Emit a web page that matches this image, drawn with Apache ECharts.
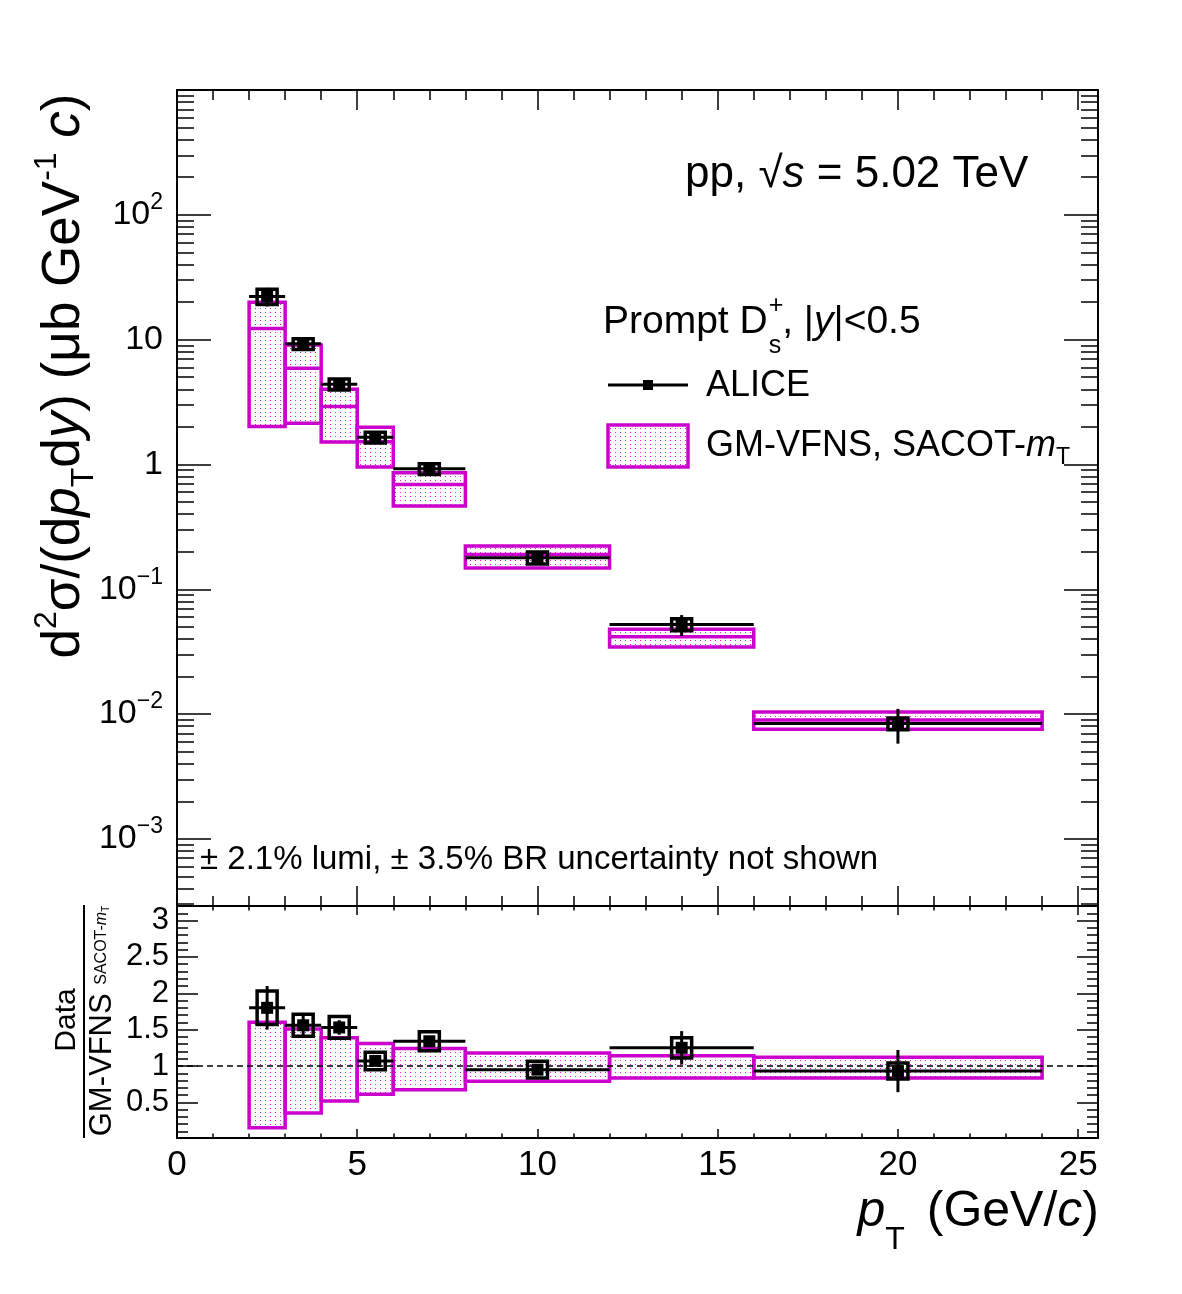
<!DOCTYPE html>
<html><head><meta charset="utf-8">
<script src="https://cdn.jsdelivr.net/npm/echarts@6/dist/echarts.min.js"></script>
<style>html,body{margin:0;padding:0;background:#fff}#c{width:1182px;height:1294px}</style>
</head><body><div id="c"></div>
<script>
// ---------------- data ----------------
const binLo = [2, 3, 4, 5, 6, 8, 12, 16];
const binHi = [3, 4, 5, 6, 8, 12, 16, 24];
const ptCenter = [2.5, 3.5, 4.5, 5.5, 7, 10, 14, 20];

// ALICE prompt Ds+ cross section (ub GeV^-1 c)
const aliceVal = [22.2, 9.25, 4.39, 1.65, 0.923, 0.179, 0.0522, 0.0084];
const aliceStatRel = [0.17, 0.11, 0.07, 0.06, 0.05, 0.06, 0.19, 0.31];
const aliceSystRel = [0.14, 0.10, 0.10, 0.10, 0.10, 0.11, 0.11, 0.11];

// GM-VFNS SACOT-mT prediction
const theoryUp  = [19.9, 9.07, 4.0, 1.99, 0.857, 0.222, 0.0479, 0.0104];
const theoryCen = [12.3, 5.9, 2.91, 1.52, 0.69, 0.19, 0.0416, 0.00895];
const theoryLo  = [2.01, 2.14, 1.51, 0.953, 0.464, 0.148, 0.0345, 0.00755];

// Ratio panel Data / GM-VFNS
const ratioVal  = [1.80, 1.56, 1.53, 1.07, 1.34, 0.95, 1.25, 0.93];
const ratioStat = [0.30, 0.17, 0.10, 0.06, 0.07, 0.06, 0.23, 0.29];
const ratioSyst = [0.23, 0.15, 0.15, 0.12, 0.13, 0.115, 0.14, 0.11];
const ratioTheoUp = [1.60, 1.51, 1.39, 1.31, 1.24, 1.18, 1.14, 1.12];
const ratioTheoLo = [0.15, 0.355, 0.52, 0.61, 0.675, 0.79, 0.835, 0.835];

// axis ticks
const topMajorTicks = [1e-3, 1e-2, 0.1, 1, 10, 100, 1000];
const topLabelTicks = [1e-3, 1e-2, 0.1, 1, 10, 100];
const ratioLabelTicks = [0.5, 1, 1.5, 2, 2.5, 3];
const xLabelTicks = [0, 5, 10, 15, 20, 25];

// ---------------- helpers ----------------
const FONT = '"Liberation Sans", Arial, Helvetica, sans-serif';
const MAG = '#cc00cc';
const xMin = 0, xMax = 25.55;
const yTopMin = 2.9e-4, yTopMax = 1000;
const yRatMin = 0.01, yRatMax = 3.2;

const topMinorTicks = [];
for (let k = -4; k <= 2; k++) {
  for (let m = 2; m <= 9; m++) {
    const v = Number((m * Math.pow(10, k)).toPrecision(3));
    if (v >= yTopMin && v <= yTopMax) topMinorTicks.push(v);
  }
}
const ratioMinorTicks = [];
for (let k = 1; k <= 32; k++) {
  if (k % 5 !== 0) ratioMinorTicks.push(Number((k * 0.1).toFixed(1)));
}

const aliceStatLo = aliceVal.map((v, i) => v * (1 - aliceStatRel[i]));
const aliceStatHi = aliceVal.map((v, i) => v * (1 + aliceStatRel[i]));
const aliceSystLo = aliceVal.map((v, i) => v * (1 - aliceSystRel[i]));
const aliceSystHi = aliceVal.map((v, i) => v * (1 + aliceSystRel[i]));
const ratioStatLo = ratioVal.map((v, i) => v - ratioStat[i]);
const ratioStatHi = ratioVal.map((v, i) => v + ratioStat[i]);
const ratioSystLo = ratioVal.map((v, i) => v - ratioSyst[i]);
const ratioSystHi = ratioVal.map((v, i) => v + ratioSyst[i]);

// dotted magenta fill pattern
const pc = document.createElement('canvas');
pc.width = 5; pc.height = 4;
const pctx = pc.getContext('2d');
pctx.fillStyle = 'rgba(225,0,225,0.9)';
pctx.fillRect(0, 0, 1, 1);
const pattern = { image: pc, repeat: 'repeat' };

// text measuring
const mctx = document.createElement('canvas').getContext('2d');
function textW(t, size, style) {
  mctx.font = (style || '') + ' ' + size + 'px "Liberation Sans"';
  return mctx.measureText(t).width;
}

function theoryRender(up, dn, cen, drawCen) {
  return function (params, api) {
    const i = params.dataIndex;
    const a = api.coord([binLo[i], up[i]]);
    const b = api.coord([binHi[i], dn[i]]);
    const ch = [{
      type: 'rect',
      shape: { x: a[0], y: a[1], width: b[0] - a[0], height: b[1] - a[1] },
      style: { fill: pattern, stroke: MAG, lineWidth: 3.5 }
    }];
    if (drawCen) {
      const c1 = api.coord([binLo[i], cen[i]]);
      const c2 = api.coord([binHi[i], cen[i]]);
      ch.push({ type: 'line', shape: { x1: c1[0], y1: c1[1], x2: c2[0], y2: c2[1] },
        style: { stroke: MAG, lineWidth: 3.5 } });
    }
    return { type: 'group', children: ch };
  };
}

function dataRender(vals, eLo, eHi, sLo, sHi) {
  return function (params, api) {
    const i = params.dataIndex;
    const c = api.coord([ptCenter[i], vals[i]]);
    const l = api.coord([binLo[i], vals[i]]);
    const r = api.coord([binHi[i], vals[i]]);
    const t = api.coord([ptCenter[i], eHi[i]]);
    const b = api.coord([ptCenter[i], eLo[i]]);
    const st = api.coord([ptCenter[i], sHi[i]]);
    const sb = api.coord([ptCenter[i], sLo[i]]);
    return { type: 'group', children: [
      { type: 'line', shape: { x1: l[0], y1: l[1], x2: r[0], y2: r[1] }, style: { stroke: '#000', lineWidth: 3 } },
      { type: 'line', shape: { x1: t[0], y1: t[1], x2: b[0], y2: b[1] }, style: { stroke: '#000', lineWidth: 3 } },
      { type: 'rect', shape: { x: c[0] - 10, y: st[1], width: 20, height: sb[1] - st[1] }, style: { fill: 'none', stroke: '#000', lineWidth: 3.5 } },
      { type: 'rect', shape: { x: c[0] - 6, y: c[1] - 6, width: 12, height: 12 }, style: { fill: '#000' } }
    ] };
  };
}

function dashRender(params, api) {
  const a = api.coord([xMin, 1]);
  const b = api.coord([xMax, 1]);
  return { type: 'line', shape: { x1: a[0], y1: a[1], x2: b[0], y2: b[1] },
    style: { stroke: '#000', lineWidth: 1.5, lineDash: [6, 4] } };
}

const axisLine = { show: true, lineStyle: { color: '#000', width: 2 } };
const noLabel = { show: false };

function xAxisDef(grid, pos, showLabel, majLen, minLen) {
  return {
    type: 'value', gridIndex: grid, position: pos, min: xMin, max: xMax, interval: 5,
    axisLine: axisLine, splitLine: { show: false },
    axisTick: { show: true, inside: true, length: majLen, customValues: xLabelTicks, lineStyle: { color: '#000', width: 1.5 } },
    minorTick: { show: true, splitNumber: 5, length: minLen, lineStyle: { color: '#000', width: 1.5 } },
    axisLabel: showLabel ? { show: true, margin: 10, color: '#000', fontSize: 35, fontFamily: FONT, customValues: xLabelTicks } : noLabel
  };
}

function yLogDef(pos, ticks, len, showLabel) {
  return {
    type: 'log', gridIndex: 0, position: pos, min: yTopMin, max: yTopMax, logBase: 10,
    axisLine: axisLine, splitLine: { show: false },
    axisTick: { show: true, inside: true, length: len, customValues: ticks, lineStyle: { color: '#000', width: 1.5 } },
    minorTick: { show: false },
    axisLabel: showLabel ? {
      show: true, margin: 14, color: '#000', fontFamily: FONT, fontSize: 33,
      customValues: topLabelTicks,
      formatter: function (v) {
        const e = Math.round(Math.log10(v));
        if (e === 0) return '{b|1}';
        if (e === 1) return '{b|10}';
        const s = e < 0 ? '\u2212' + (-e) : String(e);
        return '{b|10}{s|' + s + '}';
      },
      rich: {
        b: { fontSize: 34, fontFamily: FONT, color: '#000', lineHeight: 36 },
        s: { fontSize: 23, fontFamily: FONT, color: '#000', lineHeight: 23, padding: [0, 0, 24, 0] }
      }
    } : noLabel
  };
}

function yRatDef(pos, ticks, len, showLabel) {
  return {
    type: 'value', gridIndex: 1, position: pos, min: yRatMin, max: yRatMax,
    axisLine: axisLine, splitLine: { show: false },
    axisTick: { show: true, inside: true, length: len, customValues: ticks, lineStyle: { color: '#000', width: 1.5 } },
    minorTick: { show: false },
    axisLabel: showLabel ? { show: true, margin: 8, color: '#000', fontFamily: FONT, fontSize: 31, customValues: ratioLabelTicks } : noLabel
  };
}

const chart = echarts.init(document.getElementById('c'), null, { renderer: 'canvas' });

const tRich = {
  n: { fontSize: 44, fontFamily: FONT, color: '#000' },
  i: { fontSize: 44, fontFamily: FONT, fontStyle: 'italic', color: '#000' }
};

// legend header layout
const hdrSize = 39;
const hdrX = 603;
const wPromptD = textW('Prompt D', hdrSize);
const xSupSub = hdrX + wPromptD + 1;
const xAfter = xSupSub + textW('s', 25) + 1;

const option = {
  animation: false,
  backgroundColor: '#fff',
  grid: [
    { left: 177, top: 90, width: 921, height: 816, outerBoundsMode: 'none', containLabel: false },
    { left: 177, top: 906, width: 921, height: 232, outerBoundsMode: 'none', containLabel: false }
  ],
  xAxis: [
    xAxisDef(0, 'bottom', false, 20, 10),
    xAxisDef(0, 'top', false, 20, 10),
    xAxisDef(1, 'bottom', true, 9, 4.5),
    xAxisDef(1, 'top', false, 9, 4.5)
  ],
  yAxis: [
    yLogDef('left', topMajorTicks, 34, true),
    yLogDef('left', topMinorTicks, 17, false),
    yLogDef('right', topMajorTicks, 34, false),
    yLogDef('right', topMinorTicks, 17, false),
    yRatDef('left', ratioLabelTicks, 21, true),
    yRatDef('left', ratioMinorTicks, 11, false),
    yRatDef('right', ratioLabelTicks, 21, false),
    yRatDef('right', ratioMinorTicks, 11, false)
  ],
  series: [
    { type: 'custom', name: 'GM-VFNS', xAxisIndex: 0, yAxisIndex: 0, clip: true,
      renderItem: theoryRender(theoryUp, theoryLo, theoryCen, true),
      data: ptCenter.map((x, i) => [x, theoryCen[i]]) },
    { type: 'custom', name: 'ALICE', xAxisIndex: 0, yAxisIndex: 0, clip: true,
      renderItem: dataRender(aliceVal, aliceStatLo, aliceStatHi, aliceSystLo, aliceSystHi),
      data: ptCenter.map((x, i) => [x, aliceVal[i]]) },
    { type: 'custom', name: 'GM-VFNS ratio', xAxisIndex: 2, yAxisIndex: 4, clip: true,
      renderItem: theoryRender(ratioTheoUp, ratioTheoLo, null, false),
      data: ptCenter.map((x, i) => [x, 1]), z: 2 },
    { type: 'custom', name: 'unity', xAxisIndex: 2, yAxisIndex: 4, clip: true,
      renderItem: dashRender, data: [[0, 1]], z: 3 },
    { type: 'custom', name: 'ALICE ratio', xAxisIndex: 2, yAxisIndex: 4, clip: true,
      renderItem: dataRender(ratioVal, ratioStatLo, ratioStatHi, ratioSystLo, ratioSystHi),
      data: ptCenter.map((x, i) => [x, ratioVal[i]]), z: 4 }
  ],
  graphic: [
    // energy label
    { type: 'text', x: 685, y: 175, style: { text: '{n|pp, }{n|\u221A}{i|s}{n| = 5.02 TeV}', rich: tRich,
      verticalAlign: 'middle', align: 'left' } },
    // legend header
    { type: 'text', x: hdrX, y: 322, style: { text: 'Prompt D', fontSize: hdrSize, fontFamily: FONT, fill: '#000', verticalAlign: 'middle' } },
    { type: 'text', x: xSupSub, y: 306, style: { text: '+', fontSize: 25, fontFamily: FONT, fill: '#000', verticalAlign: 'middle' } },
    { type: 'text', x: xSupSub, y: 346, style: { text: 's', fontSize: 25, fontFamily: FONT, fill: '#000', verticalAlign: 'middle' } },
    { type: 'text', x: xAfter, y: 322, style: { text: '{n|, |}{i|y}{n||<0.5}', verticalAlign: 'middle',
      rich: { n: { fontSize: hdrSize, fontFamily: FONT, color: '#000' }, i: { fontSize: hdrSize, fontFamily: FONT, fontStyle: 'italic', color: '#000' } } } },
    // legend ALICE
    { type: 'line', shape: { x1: 608, y1: 385, x2: 688, y2: 385 }, style: { stroke: '#000', lineWidth: 3 } },
    { type: 'rect', shape: { x: 643, y: 380, width: 10, height: 10 }, style: { fill: '#000' } },
    { type: 'text', x: 706, y: 386, style: { text: 'ALICE', fontSize: 36, fontFamily: FONT, fill: '#000', verticalAlign: 'middle' } },
    // legend GM-VFNS
    { type: 'rect', shape: { x: 608, y: 425, width: 80, height: 42 }, style: { fill: pattern, stroke: MAG, lineWidth: 3.5 } },
    { type: 'text', x: 706, y: 446, style: { text: '{n|GM-VFNS, SACOT-}{i|m}{s|T}', verticalAlign: 'middle',
      rich: { n: { fontSize: 36, fontFamily: FONT, color: '#000', lineHeight: 40 },
              i: { fontSize: 36, fontFamily: FONT, fontStyle: 'italic', color: '#000', lineHeight: 40 },
              s: { fontSize: 23, fontFamily: FONT, color: '#000', lineHeight: 23, padding: [24, 0, 0, 0] } } } },
    // lumi note
    { type: 'text', x: 200, y: 860, style: { text: '\u00B1 2.1% lumi, \u00B1 3.5% BR uncertainty not shown', fontSize: 33,
      fontFamily: FONT, fill: '#000', verticalAlign: 'middle' } },
    // y title top (rotated)
    { type: 'text', x: 64, y: 376, rotation: Math.PI / 2, style: {
      text: '{n|d}{sup|2}{n|\u03C3/(d}{i|p}{sub|T}{n|d}{i|y}{n|) (\u03BCb GeV}{sup|-1}{n| }{i|c}{n|)}',
      align: 'center', verticalAlign: 'middle',
      rich: { n: { fontSize: 53, fontFamily: FONT, color: '#000', lineHeight: 56 },
              i: { fontSize: 53, fontFamily: FONT, fontStyle: 'italic', color: '#000', lineHeight: 56 },
              sup: { fontSize: 32, fontFamily: FONT, color: '#000', lineHeight: 32, padding: [0, 0, 34, 0] },
              sub: { fontSize: 32, fontFamily: FONT, color: '#000', lineHeight: 32, padding: [40, 0, 0, 0] } } } },
    // ratio y title
    { type: 'text', x: 67, y: 1020, rotation: Math.PI / 2, style: { text: 'Data', fontSize: 30, fontFamily: FONT,
      fill: '#000', align: 'center', verticalAlign: 'middle' } },
    { type: 'line', shape: { x1: 84, y1: 905, x2: 84, y2: 1138 }, style: { stroke: '#000', lineWidth: 2 } },
    { type: 'text', x: 102, y: 1021, rotation: Math.PI / 2, style: {
      text: '{n|GM-VFNS }{s|SACOT-}{si|m}{ss|T}', align: 'center', verticalAlign: 'middle',
      rich: { n: { fontSize: 31, fontFamily: FONT, color: '#000', lineHeight: 34 },
              s: { fontSize: 16, fontFamily: FONT, color: '#000', lineHeight: 16 },
              si: { fontSize: 16, fontFamily: FONT, fontStyle: 'italic', color: '#000', lineHeight: 16 },
              ss: { fontSize: 10, fontFamily: FONT, color: '#000', lineHeight: 10, padding: [8, 0, 0, 0] } } } },
    // x title
    { type: 'text', x: 1099, y: 1212, style: {
      text: '{i|p}{sub|T}{n| (GeV/}{i|c}{n|)}', align: 'right', verticalAlign: 'middle',
      rich: { n: { fontSize: 50, fontFamily: FONT, color: '#000', lineHeight: 54 },
              i: { fontSize: 50, fontFamily: FONT, fontStyle: 'italic', color: '#000', lineHeight: 54 },
              sub: { fontSize: 32, fontFamily: FONT, color: '#000', lineHeight: 32, padding: [56, 8, 0, 0] } } } }
  ]
};
chart.setOption(option);
</script>
</body></html>
